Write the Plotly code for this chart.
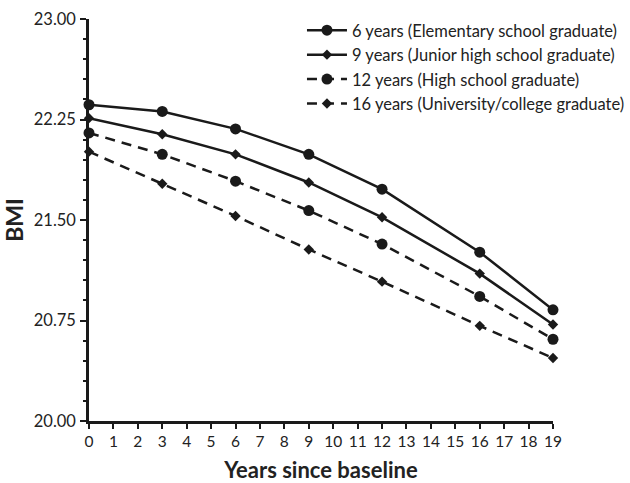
import plotly.graph_objects as go

years = [0, 3, 6, 9, 12, 16, 19]
names = [
    "6 years (Elementary school graduate)",
    "9 years (Junior high school graduate)",
    "12 years (High school graduate)",
    "16 years (University/college graduate)",
]
bmi_6 = [22.36, 22.31, 22.18, 21.99, 21.73, 21.26, 20.83]
bmi_9 = [22.26, 22.14, 21.99, 21.78, 21.52, 21.10, 20.72]
bmi_12 = [22.15, 21.99, 21.79, 21.57, 21.32, 20.93, 20.61]
bmi_16 = [22.01, 21.77, 21.53, 21.28, 21.04, 20.71, 20.47]

series = [bmi_6, bmi_9, bmi_12, bmi_16]
symbols = ["circle", "diamond", "circle", "diamond"]
sizes = [11, 8, 11, 8]
dashes = ["solid", "solid", "10px,7px", "10px,7px"]

fig = go.Figure()
for name, vals, sym, sz, dash in zip(names, series, symbols, sizes, dashes):
    fig.add_trace(go.Scatter(
        x=years, y=vals, name=name, mode="lines+markers",
        line=dict(color="#1a1a1a", width=2.5, dash=dash),
        marker=dict(symbol=sym, size=sz, color="#1a1a1a"),
        cliponaxis=False,
    ))

font_family = "Lato, Open Sans, sans-serif"
fig.update_layout(
    width=630, height=483,
    margin=dict(l=89, r=77, t=19, b=62, autoexpand=False),
    plot_bgcolor="white", paper_bgcolor="white",
    font=dict(family=font_family, color="#222222", size=15),
    showlegend=True,
    legend=dict(
        x=0.459, y=1.015, xanchor="left", yanchor="top",
        font=dict(size=16.5, color="#222222"),
        bgcolor="rgba(0,0,0,0)", tracegroupgap=0,
        itemwidth=40,
    ),
    xaxis=dict(
        range=[0, 19], tickmode="array", tickvals=list(range(20)),
        ticktext=[str(i) for i in range(20)],
        showline=True, linecolor="#1a1a1a", linewidth=2.5,
        ticks="outside", ticklen=5, tickwidth=1.5, tickcolor="#1a1a1a",
        showgrid=False, zeroline=False, automargin=False,
        tickfont=dict(size=15.5),
        title=dict(text="<b>Years since baseline</b>", font=dict(size=22), standoff=26),
    ),
    yaxis=dict(
        range=[20, 23], tickmode="array",
        tickvals=[20.0, 20.75, 21.5, 22.25, 23.0],
        ticktext=["20.00", "20.75", "21.50", "22.25", "23.00"],
        showline=True, linecolor="#1a1a1a", linewidth=2.5,
        ticks="outside", ticklen=6, tickwidth=1.5, tickcolor="#1a1a1a",
        ticklabelstandoff=1, automargin=False,
        minor=dict(dtick=0.15, tick0=20, ticks="outside", ticklen=3, tickwidth=1.5, tickcolor="#1a1a1a", showgrid=False),
        showgrid=False, zeroline=False,
        tickfont=dict(size=16.5),
        title=dict(text="<b>BMI</b>", font=dict(size=23), standoff=14),
    ),
)

fig.write_html("out.html", config={"displayModeBar": False},
               post_script="document.body.style.margin='0';")
